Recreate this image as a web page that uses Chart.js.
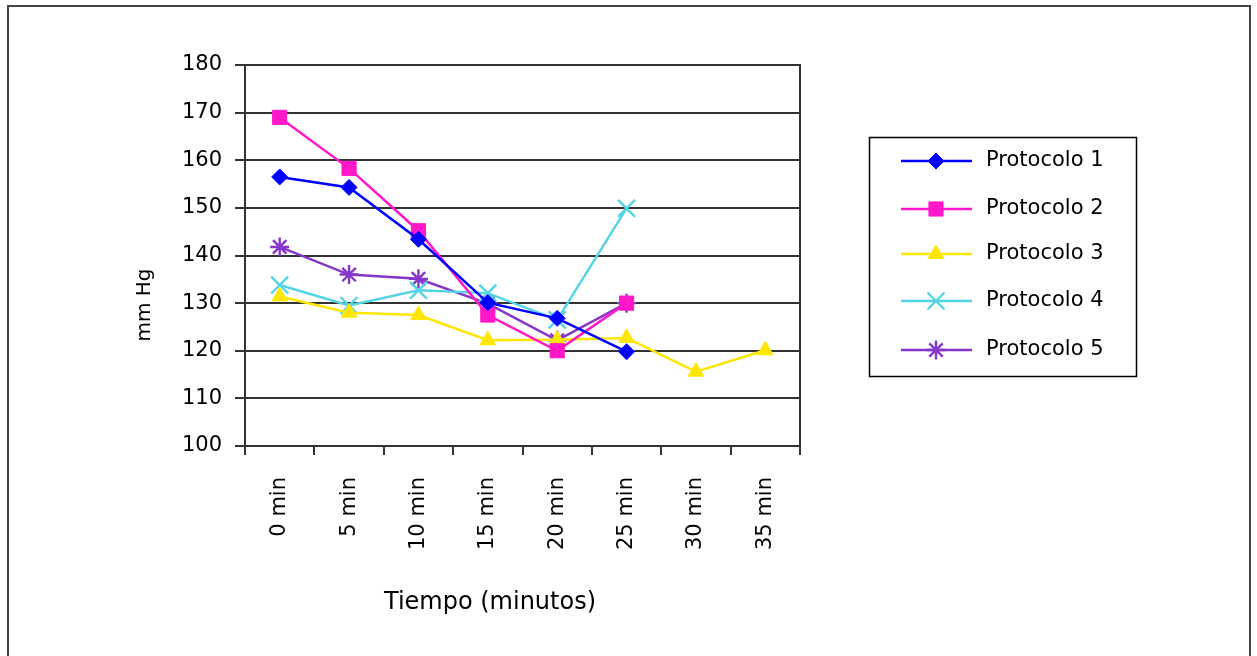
<!DOCTYPE html>
<html>
<head>
<meta charset="utf-8">
<script src="https://cdn.jsdelivr.net/npm/chart.js@4.4.1/dist/chart.umd.min.js"></script>
<style>
html,body{margin:0;padding:0;background:#fff;}
#wrap{width:1257px;height:656px;position:relative;}
</style>
</head>
<body>
<div id="wrap"><canvas id="c" width="1257" height="656"></canvas></div>
<script>
// ---- data ----
const categories = ['0 min','5 min','10 min','15 min','20 min','25 min','30 min','35 min'];
const seriesNames = ['Protocolo 1','Protocolo 2','Protocolo 3','Protocolo 4','Protocolo 5'];
const protocolo1 = [156.5, 154.3, 143.4, 130.1, 126.8, 119.8, null, null];
const protocolo2 = [169.0, 158.3, 145.2, 127.5, 120.0, 130.0, null, null];
const protocolo3 = [131.4, 128.0, 127.5, 122.2, 122.3, 122.7, 115.6, 120.1];
const protocolo4 = [133.8, 129.5, 132.7, 132.1, 126.5, 149.9, null, null];
const protocolo5 = [141.8, 136.0, 135.1, 129.9, 122.2, 130.0, null, null];
const yTicks = [100, 110, 120, 130, 140, 150, 160, 170, 180];
const yTitle = 'mm Hg';
const xTitle = 'Tiempo (minutos)';

// ---- styles ----
const colors = ['#0000FF', '#FF17C9', '#FFE600', '#55D4E6', '#8636C8'];
const styles = ['rectRot', 'rect', 'triangle', 'crossRot', 'star'];
const radii = [8, 10, 9, 12, 9.5];
const values = [protocolo1, protocolo2, protocolo3, protocolo4, protocolo5];
const FONT = '"DejaVu Sans", Verdana, sans-serif';

const datasets = values.map((v, i) => ({
  label: seriesNames[i],
  data: v,
  borderColor: colors[i],
  backgroundColor: colors[i],
  pointBackgroundColor: colors[i],
  pointBorderColor: colors[i],
  pointStyle: styles[i],
  pointRadius: radii[i],
  pointHoverRadius: radii[i],
  pointBorderWidth: (styles[i] === 'crossRot' || styles[i] === 'star') ? 2.4 : 1,
  borderWidth: 2.5,
  tension: 0,
  fill: false,
  spanGaps: false
}));

const framePlugin = {
  id: 'frame',
  beforeDraw(chart) {
    const ctx = chart.ctx;
    ctx.save();
    ctx.fillStyle = '#fff';
    ctx.fillRect(0, 0, chart.width, chart.height);
    ctx.strokeStyle = '#444';
    ctx.lineWidth = 2;
    ctx.strokeRect(8, 6, 1242, 700);
    ctx.restore();
  },
  beforeDatasetsDraw(chart) {
    const a = chart.chartArea, ctx = chart.ctx;
    ctx.save();
    ctx.strokeStyle = '#333';
    ctx.lineWidth = 2;
    ctx.beginPath();
    ctx.moveTo(a.left, a.top);
    ctx.lineTo(a.right, a.top);
    ctx.lineTo(a.right, a.bottom);
    ctx.stroke();
    ctx.restore();
  },
  afterDraw(chart) {
    const ctx = chart.ctx;
    ctx.save();
    ctx.fillStyle = '#000';
    ctx.textAlign = 'center';
    ctx.textBaseline = 'middle';
    ctx.font = '24px ' + FONT;
    ctx.fillText(xTitle, 490, 603);
    ctx.translate(145, 305);
    ctx.rotate(-Math.PI / 2);
    ctx.font = '20px ' + FONT;
    ctx.fillText(yTitle, 0, 0);
    ctx.restore();
  }
};

const legendPlugin = {
  id: 'customLegend',
  afterDraw(chart) {
    const ctx = chart.ctx;
    ctx.save();
    ctx.strokeStyle = '#000';
    ctx.lineWidth = 1.5;
    ctx.strokeRect(869.5, 137.5, 267, 239);
    const ys = [161, 209, 254, 301, 350];
    chart.data.datasets.forEach((ds, i) => {
      const y = ys[i];
      ctx.strokeStyle = ds.borderColor;
      ctx.lineWidth = 2.5;
      ctx.beginPath();
      ctx.moveTo(901, y);
      ctx.lineTo(972, y);
      ctx.stroke();
      ctx.fillStyle = ds.pointBackgroundColor;
      ctx.strokeStyle = ds.pointBorderColor;
      ctx.lineWidth = ds.pointBorderWidth;
      Chart.helpers.drawPoint(ctx, {pointStyle: ds.pointStyle, radius: ds.pointRadius, rotation: 0, borderWidth: ds.pointBorderWidth}, 936, y);
      ctx.fillStyle = '#000';
      ctx.font = '21px ' + FONT;
      ctx.textBaseline = 'middle';
      ctx.textAlign = 'left';
      ctx.fillText(ds.label, 986, y);
    });
    ctx.restore();
  }
};

new Chart(document.getElementById('c'), {
  type: 'line',
  data: { labels: categories, datasets },
  plugins: [framePlugin, legendPlugin],
  options: {
    responsive: false,
    devicePixelRatio: 1,
    animation: false,
    layout: { padding: { left: 0, top: 65, right: 457, bottom: 0 } },
    plugins: { legend: { display: false }, tooltip: { enabled: false } },
    scales: {
      x: {
        type: 'category',
        offset: true,
        afterFit(s) { s.height = 210; },
        grid: { offset: true, drawOnChartArea: false, drawTicks: true, tickLength: 9, color: '#333', lineWidth: 2 },
        border: { display: true, color: '#333', width: 2 },
        ticks: { autoSkip: false, maxRotation: 90, minRotation: 90, padding: 22, color: '#000', font: { family: FONT, size: 21 } },
        title: { display: false }
      },
      y: {
        min: 100, max: 180,
        afterFit(s) { s.width = 245; },
        afterBuildTicks(s) { s.ticks = yTicks.map(v => ({ value: v })); },
        grid: { color: '#333', lineWidth: 2, drawTicks: true, tickLength: 10 },
        border: { display: true, color: '#333', width: 2 },
        ticks: { stepSize: 10, padding: 13, color: '#000', font: { family: FONT, size: 21 } },
        title: { display: false }
      }
    }
  }
});
</script>
</body>
</html>
